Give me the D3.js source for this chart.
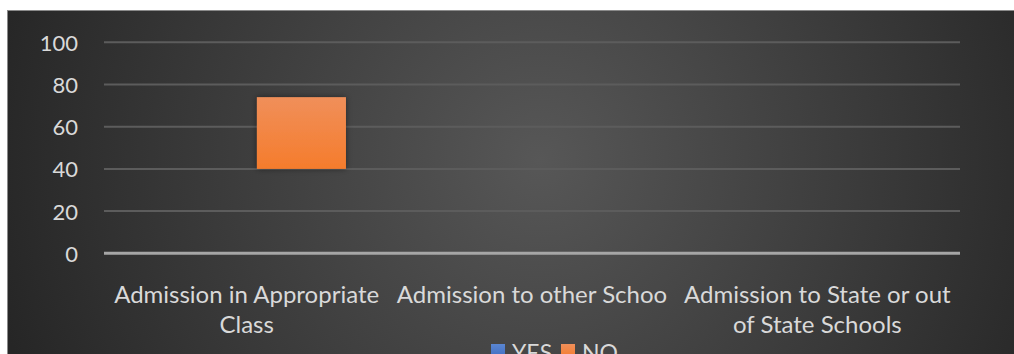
<!DOCTYPE html>
<html>
<head>
<meta charset="utf-8">
<script src="https://cdn.jsdelivr.net/npm/d3@7/dist/d3.min.js"></script>
<style>
  html, body { margin: 0; padding: 0; background: #ffffff; overflow: hidden; }
  svg { display: block; }
  text { font-family: Lato, "Open Sans", sans-serif; fill: #d9d9d9; }
</style>
</head>
<body>
<svg id="chart" width="1014" height="354"></svg>
<script>
// Categories and series
const categories = [
  "Admission in Appropriate Class",
  "Admission to other Schoo",
  "Admission to State or out of State Schools"
];
const categoryLines = [
  ["Admission in Appropriate", "Class"],
  ["Admission to other Schoo"],
  ["Admission to State or out", "of State Schools"]
];
const seriesNames = ["YES", "NO"];
const yesValues = [0, 0, 0];
const noLow = [40, 0, 0];
const noHigh = [74, 0, 0];
const yTicks = [0, 20, 40, 60, 80, 100];

const svg = d3.select("#chart");
const W = 1014, H = 354;
const plot = { left: 104, right: 960, top: 42.3, bottom: 253.3 };

const defs = svg.append("defs");
const bg = defs.append("radialGradient").attr("id", "bgGrad")
  .attr("gradientUnits", "userSpaceOnUse")
  .attr("cx", 540).attr("cy", 160).attr("r", 560);
bg.append("stop").attr("offset", "0%").attr("stop-color", "#575757");
bg.append("stop").attr("offset", "100%").attr("stop-color", "#262626");

const orangeGrad = defs.append("linearGradient").attr("id", "noGrad")
  .attr("x1", 0).attr("y1", 0).attr("x2", 0).attr("y2", 1);
orangeGrad.append("stop").attr("offset", "0%").attr("stop-color", "#f08f5a");
orangeGrad.append("stop").attr("offset", "100%").attr("stop-color", "#f57c2c");

const blueGrad = defs.append("linearGradient").attr("id", "yesGrad")
  .attr("x1", 0).attr("y1", 0).attr("x2", 0).attr("y2", 1);
blueGrad.append("stop").attr("offset", "0%").attr("stop-color", "#5a86d2");
blueGrad.append("stop").attr("offset", "100%").attr("stop-color", "#3f6cc0");

const shadow = defs.append("filter").attr("id", "barShadow")
  .attr("x", "-30%").attr("y", "-30%").attr("width", "160%").attr("height", "160%");
shadow.append("feDropShadow").attr("dx", 0).attr("dy", 0)
  .attr("stdDeviation", 3).attr("flood-color", "#000").attr("flood-opacity", 0.45);

// Chart area
svg.append("rect")
  .attr("x", 7.5).attr("y", 10.5).attr("width", W).attr("height", H)
  .attr("fill", "url(#bgGrad)")
  .attr("stroke", "#8a8a8a").attr("stroke-width", 1);

const x = d3.scaleBand().domain(categories).range([plot.left, plot.right]);
const xs = d3.scaleBand().domain(seriesNames).range([0, x.bandwidth()])
  .paddingInner(0.187).paddingOuter(0.396);
const y = d3.scaleLinear().domain([0, 100]).range([plot.bottom, plot.top]);

// Gridlines
svg.append("g").selectAll("line").data(yTicks.filter(t => t !== 0)).join("line")
  .attr("x1", plot.left).attr("x2", plot.right)
  .attr("y1", d => y(d)).attr("y2", d => y(d))
  .attr("stroke", "#5c5c5c").attr("stroke-width", 2);

// Y axis labels
const yAxis = d3.axisLeft(y).tickValues(yTicks).tickSize(0).tickPadding(0);
const yg = svg.append("g").attr("transform", "translate(78,0)").call(yAxis);
yg.select(".domain").remove();
yg.selectAll("text")
  .attr("fill", "#d9d9d9")
  .style("font-family", "Lato, 'Open Sans', sans-serif")
  .style("font-size", "22px")
  .attr("dy", "0.36em");

// Bars
const barData = categories.map((c, i) => ({ c, yes: yesValues[i], low: noLow[i], high: noHigh[i] }));
svg.append("g").selectAll("rect.yes").data(barData.filter(d => d.yes > 0)).join("rect")
  .attr("class", "yes")
  .attr("x", d => x(d.c) + xs("YES")).attr("width", xs.bandwidth())
  .attr("y", d => y(d.yes)).attr("height", d => y(0) - y(d.yes))
  .attr("fill", "url(#yesGrad)").attr("filter", "url(#barShadow)");
svg.append("g").selectAll("rect.no").data(barData.filter(d => d.high > d.low)).join("rect")
  .attr("class", "no")
  .attr("x", d => x(d.c) + xs("NO")).attr("width", xs.bandwidth())
  .attr("y", d => y(d.high)).attr("height", d => y(d.low) - y(d.high))
  .attr("fill", "url(#noGrad)").attr("filter", "url(#barShadow)");

// Zero axis line
svg.append("line")
  .attr("x1", plot.left).attr("x2", plot.right)
  .attr("y1", y(0)).attr("y2", y(0))
  .attr("stroke", "#a6a6a6").attr("stroke-width", 3);

// Category labels
const cg = svg.append("g");
categories.forEach((c, i) => {
  const t = cg.append("text")
    .attr("x", x(c) + x.bandwidth() / 2)
    .attr("y", 303)
    .attr("text-anchor", "middle")
    .style("font-size", "24px");
  categoryLines[i].forEach((line, j) => {
    t.append("tspan").attr("x", x(c) + x.bandwidth() / 2)
      .attr("dy", j === 0 ? 0 : 30).text(line);
  });
});

// Legend
const legend = svg.append("g").attr("transform", "translate(491,344)");
const legendItems = [
  { name: "YES", fill: "url(#yesGrad)", dx: 0 },
  { name: "NO", fill: "url(#noGrad)", dx: 70 }
];
legendItems.forEach(it => {
  const g = legend.append("g").attr("transform", `translate(${it.dx},0)`);
  g.append("rect").attr("width", 14).attr("height", 14).attr("fill", it.fill);
  g.append("text").attr("x", 21).attr("y", 17).style("font-size", "23px").text(it.name);
});
</script>
</body>
</html>
